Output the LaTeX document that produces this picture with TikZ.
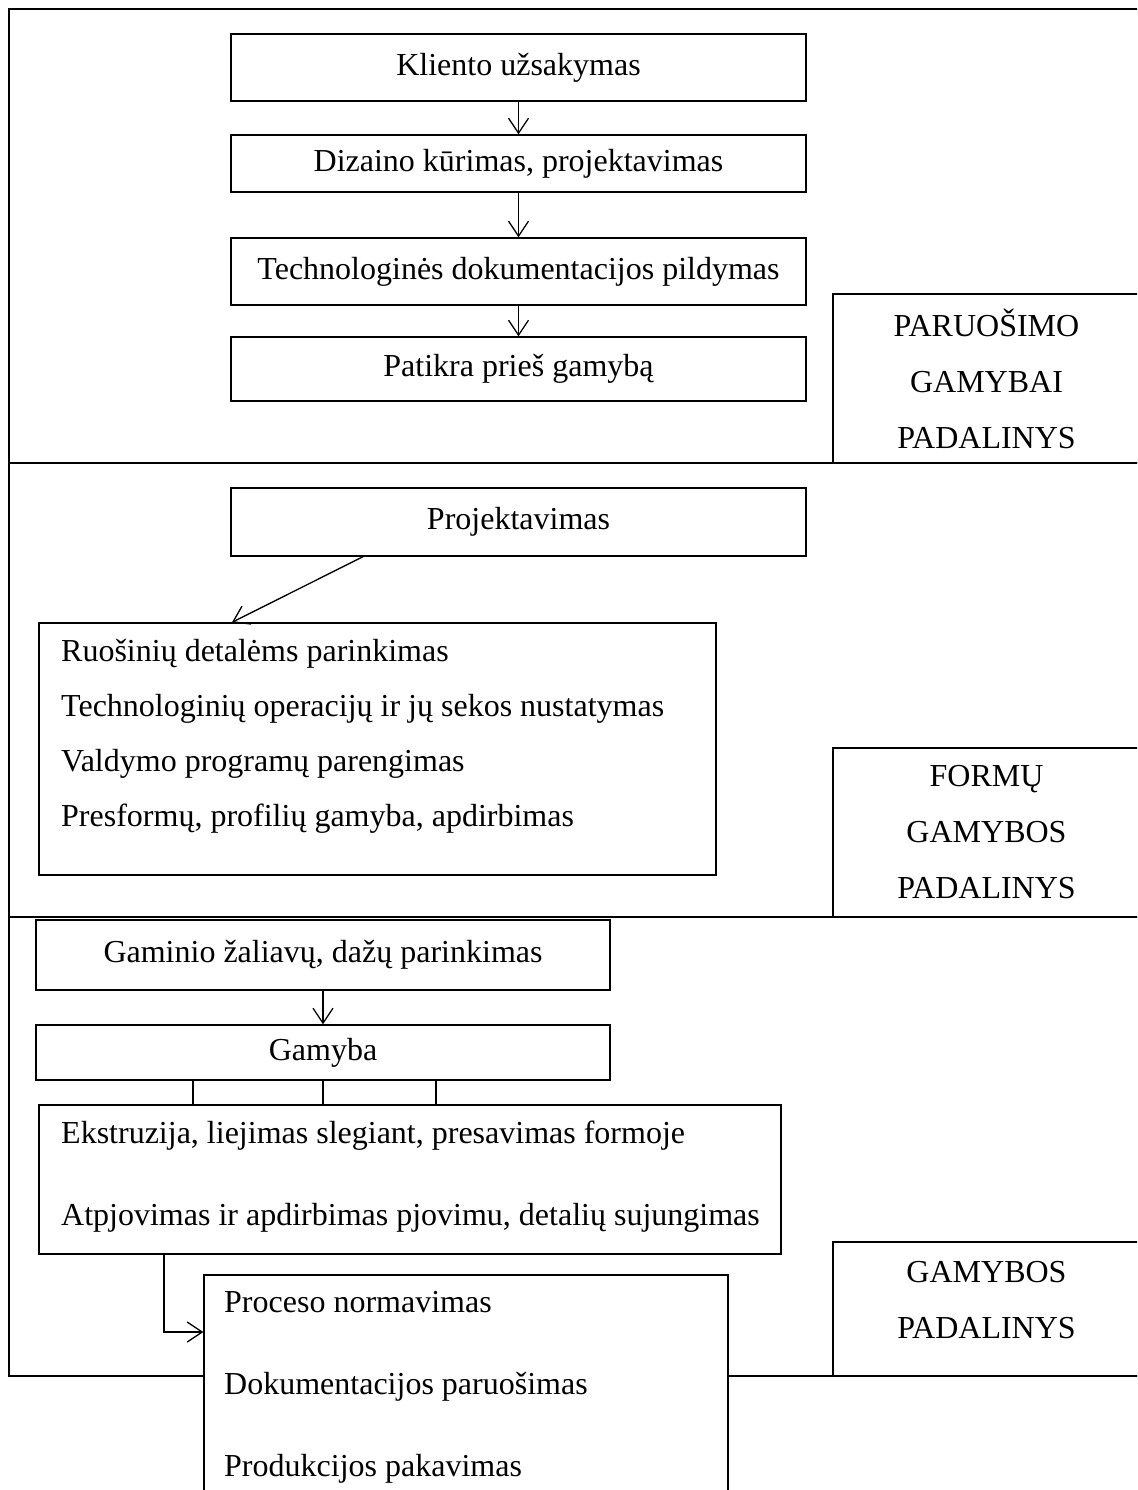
\documentclass[tikz,border=0pt]{standalone}
\usepackage{fontspec}
\setmainfont{Liberation Serif}
\usetikzlibrary{arrows.meta}
\begin{document}
\begin{tikzpicture}[x=1pt,y=-1pt,
  lw/.style={line width=1.3pt},
  box/.style={draw, lw, fill=white, inner sep=0pt, font=\fontsize{32}{32}\selectfont},
  txt/.style={inner sep=0pt, align=left, anchor=west},
  arr/.style={lw, -{Straight Barb[length=15pt,width=20pt]}},
  link/.style={lw}]
\useasboundingbox (0,0) rectangle (1137,1490);
\clip (0,0) rectangle (1137,1490);
\fill[white] (0,0) rectangle (1137,1490);

% outer frame with the three department bands
\draw[lw] (1150,9) -| (9,1376) -- (1150,1376);
\draw[lw] (9,463) -- (1150,463);
\draw[lw] (9,917) -- (1150,917);

% department labels
\node[box, minimum width=307pt, minimum height=169pt, align=center,
      font=\fontsize{32}{56}\selectfont] (dep1) at (986.5,378.5) {PARUOŠIMO\\GAMYBAI\\PADALINYS};
\node[box, minimum width=307pt, minimum height=169pt, align=center,
      font=\fontsize{32}{56}\selectfont] (dep2) at (986.5,832.5) {FORMŲ\\GAMYBOS\\PADALINYS};
\node[box, minimum width=307pt, minimum height=134pt] (dep3) at (986.5,1309) {};
\node[inner sep=0pt, align=center, font=\fontsize{32}{56}\selectfont] (dep3t) at (986.5,1300) {GAMYBOS\\PADALINYS};

% preparation stage
\node[box, minimum width=575pt, minimum height=67pt] (kli) at (518.5,67.5) {Kliento užsakymas};
\node[box, minimum width=575pt, minimum height=57pt] (diz) at (518.5,163.5) {Dizaino kūrimas, projektavimas};
\node[box, minimum width=575pt, minimum height=67pt] (tec) at (518.5,271.5) {Technologinės dokumentacijos pildymas};
\node[box, minimum width=575pt, minimum height=64pt] (pat) at (518.5,369) {Patikra prieš gamybą};
\draw[arr] (kli) -- (diz);
\draw[arr] (diz) -- (tec);
\draw[arr] (tec) -- (pat);

% mould production stage
\node[box, minimum width=575pt, minimum height=68pt] (proj) at (518.5,522) {Projektavimas};
\node[box, minimum width=677pt, minimum height=252pt] (form) at (377.5,749) {};
\node[txt, font=\fontsize{32}{55}\selectfont] (formt) at (61,736)
  {Ruošinių detalėms parinkimas\\Technologinių operacijų ir jų sekos nustatymas\\Valdymo programų parengimas\\Presformų, profilių gamyba, apdirbimas};
\coordinate (d1) at (363,0);
\coordinate (d2) at (232,0);
\draw[arr] (proj.south -| d1) -- (form.north -| d2);

% manufacturing stage
\node[box, minimum width=574pt, minimum height=70pt] (zal) at (323,955) {Gaminio žaliavų, dažų parinkimas};
\node[box, minimum width=574pt, minimum height=55pt] (gam) at (323,1052.5) {Gamyba};
\node[box, minimum width=742pt, minimum height=149pt] (ext) at (410,1179.5) {};
\node[txt, font=\fontsize{32}{82}\selectfont] (extt) at (61,1177)
  {Ekstruzija, liejimas slegiant, presavimas formoje\\Atpjovimas ir apdirbimas pjovimu, detalių sujungimas};
\draw[arr] (zal) -- (gam);
\coordinate (g1) at (193,0);
\coordinate (g2) at (323,0);
\coordinate (g3) at (436,0);
\draw[link] (gam.south -| g1) -- (ext.north -| g1);
\draw[link] (gam.south -| g2) -- (ext.north -| g2);
\draw[link] (gam.south -| g3) -- (ext.north -| g3);

\node[box, minimum width=524pt, minimum height=260pt] (proc) at (466,1405) {};
\node[txt, font=\fontsize{32}{82}\selectfont] (proct) at (224,1387)
  {Proceso normavimas\\Dokumentacijos paruošimas\\Produkcijos pakavimas};
\coordinate (e1) at (125,0);
\coordinate (e2) at (164,0);
\coordinate (e3) at (0,1332);
\draw[arr] ([yshift=1.5pt]ext.south -| e1) -- ([yshift=1.5pt]ext.south -| e2) |- (proc.west |- e3);
\end{tikzpicture}
\end{document}
